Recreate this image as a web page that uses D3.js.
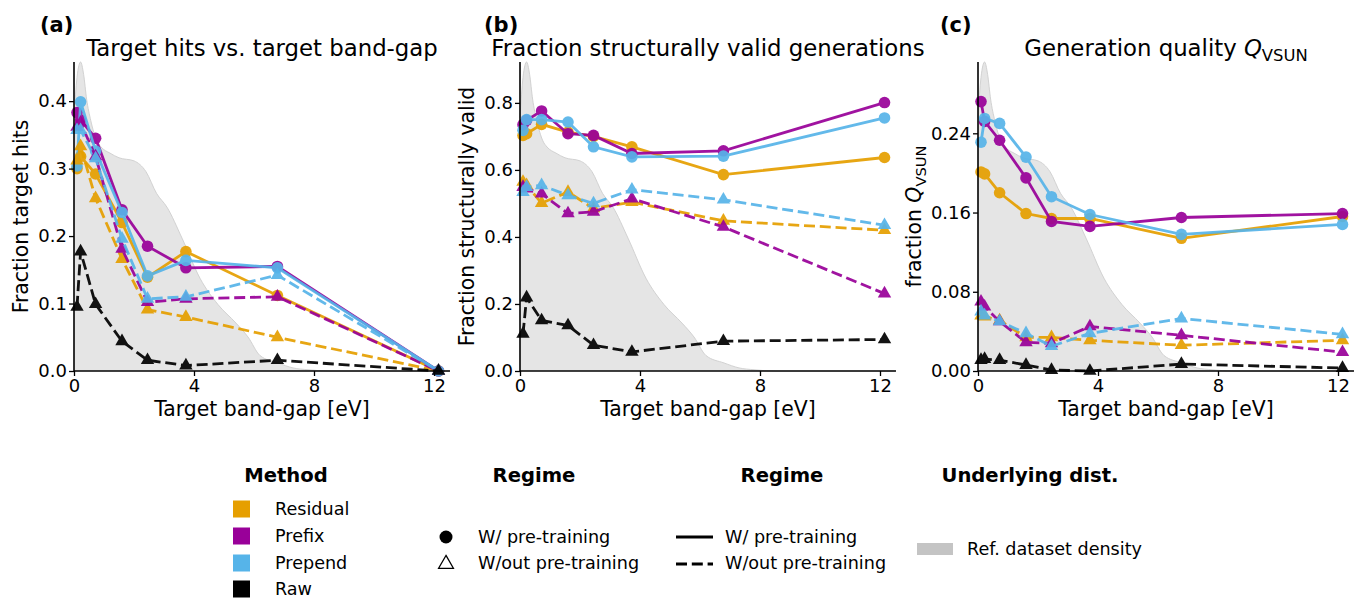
<!DOCTYPE html>
<html>
<head>
<meta charset="utf-8">
<script src="https://cdn.jsdelivr.net/npm/d3@7"></script>
<style>
  html, body { margin: 0; padding: 0; background: #fff; }
  svg { display: block; font-family: "DejaVu Sans", sans-serif; }
</style>
</head>
<body>
<svg id="chart" width="1354" height="599"></svg>
<script>
// ---------------- DATA ----------------
const bandGaps = [0.1, 0.22, 0.72, 1.6, 2.45, 3.73, 6.78, 12.15];
const methods = ["Residual", "Prefix", "Prepend", "Raw"];
const methodColors = ["#E69F00", "#990099", "#56B4E9", "#000000"];

// (a) Fraction target hits
const hitsResidualPre  = [0.300, 0.318, 0.292, 0.220, 0.139, 0.177, 0.112, 0.0];
const hitsPrefixPre    = [0.383, 0.372, 0.345, 0.239, 0.185, 0.153, 0.155, 0.0];
const hitsPrependPre   = [0.304, 0.399, 0.326, 0.235, 0.141, 0.164, 0.153, 0.0];
const hitsResidualNo   = [0.312, 0.333, 0.256, 0.166, 0.091, 0.080, 0.050, 0.0];
const hitsPrefixNo     = [0.362, 0.368, 0.318, 0.181, 0.102, 0.107, 0.110, 0.0];
const hitsPrependNo    = [0.357, 0.357, 0.315, 0.196, 0.107, 0.110, 0.142, 0.0];
const hitsRawNo        = [0.095, 0.177, 0.099, 0.044, 0.016, 0.008, 0.016, 0.0];

// (b) Fraction structurally valid
const validResidualPre = [0.703, 0.708, 0.736, 0.713, 0.700, 0.669, 0.586, 0.637];
const validPrefixPre   = [0.735, 0.748, 0.776, 0.708, 0.703, 0.649, 0.657, 0.801];
const validPrependPre  = [0.718, 0.750, 0.750, 0.743, 0.669, 0.639, 0.641, 0.755];
const validResidualNo  = [0.564, 0.554, 0.501, 0.534, 0.485, 0.504, 0.448, 0.420];
const validPrefixNo    = [0.549, 0.544, 0.529, 0.470, 0.475, 0.514, 0.430, 0.231];
const validPrependNo   = [0.534, 0.549, 0.554, 0.524, 0.500, 0.541, 0.511, 0.435];
const validRawNo       = [0.111, 0.219, 0.151, 0.136, 0.077, 0.057, 0.089, 0.094];

// (c) Generation quality Q_VSUN
const qualResidualPre  = [0.201, 0.199, 0.180, 0.159, 0.154, 0.154, 0.134, 0.156];
const qualPrefixPre    = [0.272, 0.252, 0.233, 0.195, 0.151, 0.146, 0.155, 0.159];
const qualPrependPre   = [0.231, 0.255, 0.250, 0.216, 0.176, 0.158, 0.138, 0.148];
const qualResidualNo   = [0.056, 0.055, 0.051, 0.034, 0.034, 0.031, 0.026, 0.031];
const qualPrefixNo     = [0.070, 0.065, 0.050, 0.029, 0.028, 0.045, 0.036, 0.019];
const qualPrependNo    = [0.060, 0.056, 0.050, 0.038, 0.025, 0.038, 0.053, 0.037];
const qualRawNo        = [0.011, 0.012, 0.011, 0.006, 0.001, 0.000, 0.007, 0.003];

// Reference dataset density (normalised to peak = 1)
const densityX = [0, 0.1, 0.22, 0.32, 0.42, 0.56, 0.76, 0.9, 1.2, 1.5, 2.0, 2.4, 2.75, 3.1, 3.6, 4.2, 4.8, 5.4, 5.8, 6.2, 6.8, 7.3, 7.8, 8.5, 12.5];
const densityY = [0.82, 0.95, 1.0, 0.96, 0.88, 0.81, 0.745, 0.725, 0.705, 0.69, 0.68, 0.645, 0.575, 0.53, 0.43, 0.30, 0.215, 0.155, 0.11, 0.05, 0.026, 0.01, 0.004, 0, 0];

const xTicks = [0, 4, 8, 12];
const yTicksA = [0.0, 0.1, 0.2, 0.3, 0.4];
const yTicksB = [0.0, 0.2, 0.4, 0.6, 0.8];
const yTicksC = [0.00, 0.08, 0.16, 0.24];

// ---------------- LAYOUT ----------------
const svg = d3.select("#chart");
const plotTop = 62, plotBottom = 371;

const panels = [
  { tag: "(a)", tagX: 40, left: 74, right: 450, ymax: 0.458, yTicks: yTicksA, fmt: d3.format(".1f"),
    title: [{t: "Target hits vs. target band-gap"}], ylabel: [{t: "Fraction target hits"}], ylabX: 28,
    series: [hitsResidualPre, hitsPrefixPre, hitsPrependPre, hitsResidualNo, hitsPrefixNo, hitsPrependNo, hitsRawNo] },
  { tag: "(b)", tagX: 484, left: 520, right: 896, ymax: 0.922, yTicks: yTicksB, fmt: d3.format(".1f"),
    title: [{t: "Fraction structurally valid generations"}], ylabel: [{t: "Fraction structurally valid"}], ylabX: 474,
    series: [validResidualPre, validPrefixPre, validPrependPre, validResidualNo, validPrefixNo, validPrependNo, validRawNo] },
  { tag: "(c)", tagX: 940, left: 978, right: 1354, ymax: 0.312, yTicks: yTicksC, fmt: d3.format(".2f"),
    title: [{t: "Generation quality "}, {t: "Q", it: true}, {t: "VSUN", sub: true}],
    ylabel: [{t: "fraction "}, {t: "Q", it: true}, {t: "VSUN", sub: true}], ylabX: 921,
    series: [qualResidualPre, qualPrefixPre, qualPrependPre, qualResidualNo, qualPrefixNo, qualPrependNo, qualRawNo] }
];
const seriesMeta = [
  {m: 0, pre: true}, {m: 1, pre: true}, {m: 2, pre: true},
  {m: 0, pre: false}, {m: 1, pre: false}, {m: 2, pre: false}, {m: 3, pre: false}
];

function addRich(sel, parts, baseSize) {
  parts.forEach(p => {
    const ts = sel.append("tspan").text(p.t);
    if (p.it) ts.attr("font-style", "italic");
    if (p.sub) ts.attr("font-size", baseSize * 0.72).attr("dy", baseSize * 0.22);
  });
}

const triangle = d3.symbol().type(d3.symbolTriangle).size(78);
const dash = "11,4.8";

panels.forEach(p => {
  const x = d3.scaleLinear().domain([0, (p.right - p.left) / 30]).range([p.left, p.right]);
  const y = d3.scaleLinear().domain([0, p.ymax]).range([plotBottom, plotTop]);
  const yd = d3.scaleLinear().domain([0, 1]).range([plotBottom, plotTop]);
  const g = svg.append("g");

  const dens = densityX.map((d, i) => [d, densityY[i]]).filter(d => d[0] <= x.domain()[1]);
  g.append("path").datum(dens)
    .attr("d", d3.area().x(d => x(d[0])).y0(plotBottom).y1(d => yd(d[1])).curve(d3.curveMonotoneX))
    .attr("fill", "#e5e5e5");
  g.append("path").datum(dens)
    .attr("d", d3.line().x(d => x(d[0])).y(d => yd(d[1])).curve(d3.curveMonotoneX))
    .attr("fill", "none").attr("stroke", "#d2d2d2").attr("stroke-width", 1);

  p.series.forEach((vals, si) => {
    const meta = seriesMeta[si];
    const col = methodColors[meta.m];
    const pts = bandGaps.map((bx, i) => [bx, vals[i]]);
    const sg = g.append("g").attr("opacity", 0.92);
    sg.append("path").datum(pts)
      .attr("d", d3.line().x(d => x(d[0])).y(d => y(d[1])))
      .attr("fill", "none").attr("stroke", col).attr("stroke-width", 2.8)
      .attr("stroke-dasharray", meta.pre ? null : dash);
    if (meta.pre) {
      sg.selectAll("circle").data(pts).join("circle")
        .attr("cx", d => x(d[0])).attr("cy", d => y(d[1])).attr("r", 5.8).attr("fill", col);
    } else {
      sg.selectAll("path.m").data(pts).join("path").attr("class", "m")
        .attr("d", triangle).attr("transform", d => `translate(${x(d[0])},${y(d[1])})`)
        .attr("fill", col);
    }
  });

  const xa = g.append("g").attr("transform", `translate(0,${plotBottom})`)
    .call(d3.axisBottom(x).tickValues(xTicks).tickFormat(d3.format("d")).tickSizeOuter(0).tickSize(5).tickPadding(3));
  const ya = g.append("g").attr("transform", `translate(${p.left},0)`)
    .call(d3.axisLeft(y).tickValues(p.yTicks).tickFormat(p.fmt).tickSizeOuter(0).tickSize(5).tickPadding(2));
  [xa, ya].forEach(a => {
    a.select(".domain").attr("stroke", "#000").attr("stroke-width", 1.6);
    a.selectAll(".tick line").attr("stroke", "#000").attr("stroke-width", 1.3);
    a.selectAll(".tick text").attr("font-size", 18).attr("fill", "#000").attr("font-family", "DejaVu Sans");
  });
  xa.select(".domain").attr("d", `M${p.left},0H${p.right}`);
  ya.select(".domain").attr("d", `M0,${plotBottom}V${plotTop}`);

  g.append("text").attr("x", (p.left + p.right) / 2).attr("y", 416).attr("text-anchor", "middle")
    .attr("font-size", 20.4).text("Target band-gap [eV]");
  const yl = g.append("text").attr("transform", `translate(${p.ylabX},${(plotTop + plotBottom) / 2}) rotate(-90)`)
    .attr("text-anchor", "middle").attr("font-size", 20.4);
  addRich(yl, p.ylabel, 20.4);
  const tt = g.append("text").attr("x", (p.left + p.right) / 2).attr("y", 55.5).attr("text-anchor", "middle")
    .attr("font-size", 22.8);
  addRich(tt, p.title, 22.8);
  g.append("text").attr("x", p.tagX).attr("y", 32).attr("font-size", 21).attr("font-weight", "bold").text(p.tag);
});

// ---------------- LEGEND ----------------
const lg = svg.append("g").attr("font-size", 17.6);
const titleSize = 19.6;
lg.append("text").attr("x", 286).attr("y", 482).attr("text-anchor", "middle").attr("font-weight", "bold").attr("font-size", titleSize).text("Method");
const rowsY = [509, 536, 563, 589];
methods.forEach((m, i) => {
  lg.append("rect").attr("x", 233).attr("y", rowsY[i] - 8.5).attr("width", 17).attr("height", 17).attr("fill", methodColors[i]);
  lg.append("text").attr("x", 275).attr("y", rowsY[i] + 6).text(m);
});

lg.append("text").attr("x", 534).attr("y", 482).attr("text-anchor", "middle").attr("font-weight", "bold").attr("font-size", titleSize).text("Regime");
lg.append("circle").attr("cx", 446).attr("cy", 537).attr("r", 6.5).attr("fill", "#000");
lg.append("path").attr("d", d3.symbol().type(d3.symbolTriangle).size(95)).attr("transform", "translate(446,564)")
  .attr("fill", "#fff").attr("stroke", "#000").attr("stroke-width", 1.3);
lg.append("text").attr("x", 478).attr("y", 543).text("W/ pre-training");
lg.append("text").attr("x", 478).attr("y", 569).text("W/out pre-training");

lg.append("text").attr("x", 782).attr("y", 482).attr("text-anchor", "middle").attr("font-weight", "bold").attr("font-size", titleSize).text("Regime");
lg.append("line").attr("x1", 676).attr("x2", 713).attr("y1", 537).attr("y2", 537).attr("stroke", "#000").attr("stroke-width", 3);
lg.append("line").attr("x1", 676).attr("x2", 713).attr("y1", 564).attr("y2", 564).attr("stroke", "#000").attr("stroke-width", 3).attr("stroke-dasharray", dash);
lg.append("text").attr("x", 725).attr("y", 543).text("W/ pre-training");
lg.append("text").attr("x", 725).attr("y", 569).text("W/out pre-training");

lg.append("text").attr("x", 1030).attr("y", 482).attr("text-anchor", "middle").attr("font-weight", "bold").attr("font-size", titleSize).text("Underlying dist.");
lg.append("rect").attr("x", 917).attr("y", 543).attr("width", 36).attr("height", 12).attr("fill", "#c4c4c4");
lg.append("text").attr("x", 967).attr("y", 555).text("Ref. dataset density");
</script>
</body>
</html>
